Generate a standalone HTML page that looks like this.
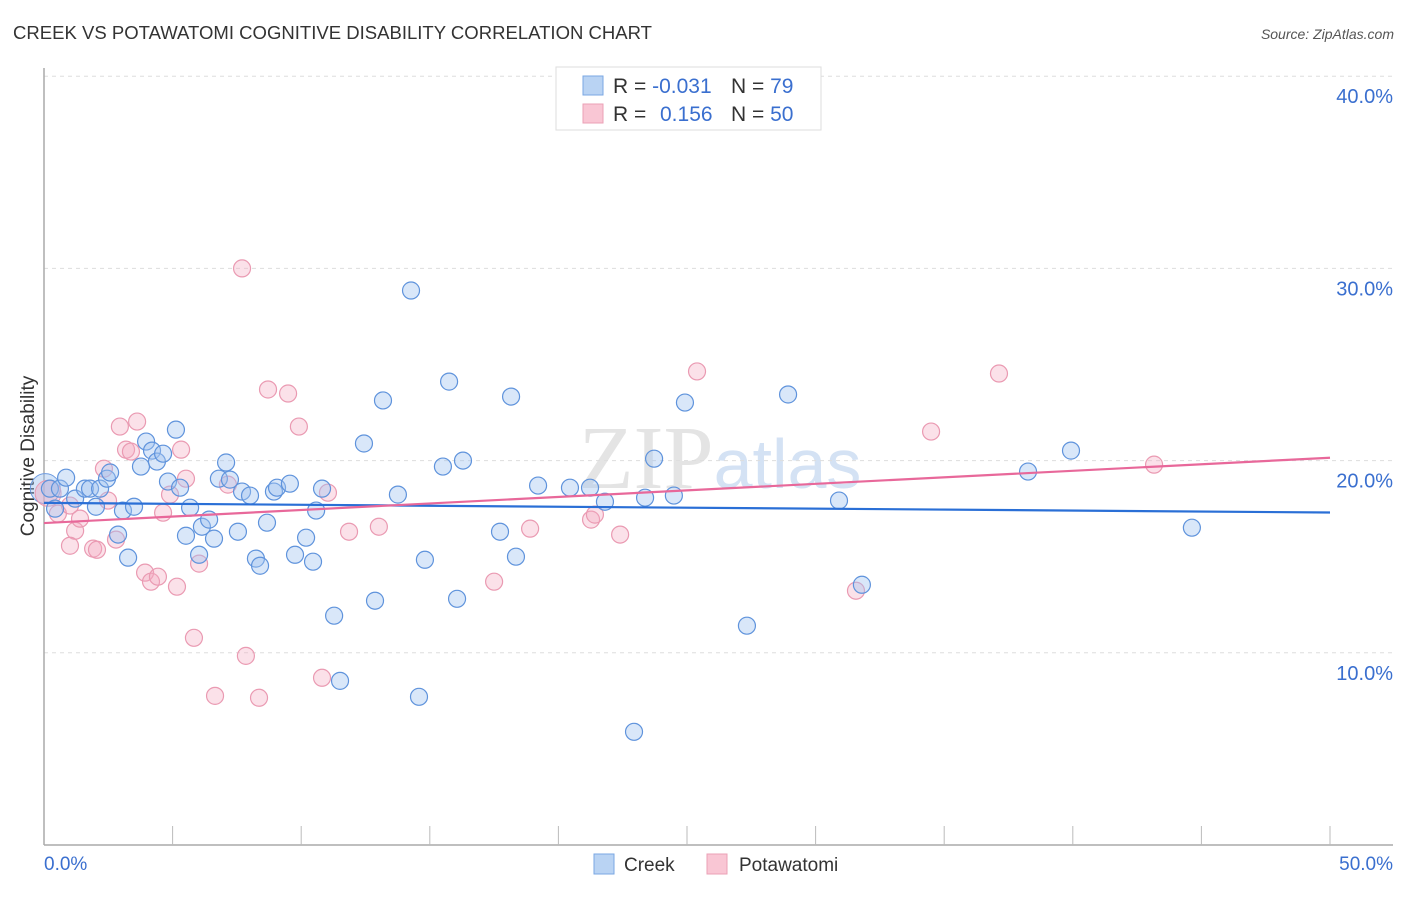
<!DOCTYPE html>
<html><head><meta charset="utf-8"><style>
body{margin:0;background:#fff;width:1406px;height:892px;overflow:hidden;font-family:"Liberation Sans",sans-serif}
</style></head><body>
<svg id="chart" width="1406" height="892" xmlns="http://www.w3.org/2000/svg" font-family="Liberation Sans, sans-serif">
<text x="13" y="39" font-size="18" fill="#333" textLength="639" lengthAdjust="spacingAndGlyphs">CREEK VS POTAWATOMI COGNITIVE DISABILITY CORRELATION CHART</text>
<text x="1394" y="39" font-size="14" fill="#555" text-anchor="end" font-style="italic">Source: ZipAtlas.com</text>
<text x="720" y="488" font-size="90" fill="#e4e4e4" text-anchor="middle" font-family="Liberation Serif, serif">ZIP<tspan fill="#d4e2f4" font-family="Liberation Sans, sans-serif" font-size="70">atlas</tspan></text>
<g id="grid"></g>
<g id="axes"></g>
<text transform="translate(34,456) rotate(-90)" font-size="19" fill="#333" text-anchor="middle">Cognitive Disability</text>
<g id="marks"></g>
<g>
<rect x="556" y="67" width="265" height="63" fill="#fff" stroke="#ddd"/>
<rect x="583" y="76" width="20" height="19" fill="#b9d3f3" stroke="#7aa7e3"/>
<rect x="583" y="104" width="20" height="19" fill="#f9c6d4" stroke="#eba0b6"/>
<text x="613" y="93" font-size="21" fill="#333">R = <tspan fill="#3a6fcf">-0.031</tspan><tspan x="731">N = </tspan><tspan fill="#3a6fcf">79</tspan></text>
<text x="613" y="121" font-size="21" fill="#333">R = <tspan x="660" fill="#3a6fcf">0.156</tspan><tspan x="731">N = </tspan><tspan fill="#3a6fcf">50</tspan></text>
</g>
<g>
<rect x="594" y="854" width="20" height="20" fill="#b9d3f3" stroke="#7aa7e3"/>
<text x="624" y="871" font-size="19" fill="#333">Creek</text>
<rect x="707" y="854" width="20" height="20" fill="#f9c6d4" stroke="#eba0b6"/>
<text x="739" y="871" font-size="19" fill="#333">Potawatomi</text>
</g>
</svg>
<script>
const yTicks=[10,20,30,40];
const yTickLabels=["10.0%","20.0%","30.0%","40.0%"];
const xTickCount=10;
const creekX=[0.23,0.62,0.86,0.43,1.21,1.59,1.79,2.18,2.02,2.45,2.57,3.07,3.5,2.88,3.27,3.77,3.97,4.2,4.39,4.63,5.13,4.82,5.29,5.68,5.52,6.03,6.14,6.42,6.61,6.8,7.08,7.23,7.54,7.7,8.01,8.24,8.4,8.67,8.94,9.06,9.56,9.76,10.19,10.46,10.58,10.81,11.28,11.51,12.44,12.87,13.18,13.76,14.27,14.58,14.81,15.51,15.75,16.06,16.29,17.73,18.16,18.35,19.21,20.45,21.23,21.81,22.94,23.37,23.72,24.49,24.92,27.33,28.93,30.91,31.8,38.26,39.93,44.63];
const creekY=[18.54,18.54,19.11,17.5,18.02,18.54,18.54,18.54,17.6,19.06,19.38,17.4,17.6,16.15,14.95,19.69,20.99,20.52,19.95,20.36,21.61,18.91,18.59,17.55,16.09,15.1,16.56,16.93,15.94,19.06,19.9,19.01,16.3,18.39,18.18,14.9,14.53,16.77,18.39,18.59,18.8,15.1,15.99,14.74,17.4,18.54,11.93,8.54,20.89,12.71,23.13,18.23,28.85,7.71,14.84,19.69,24.11,12.81,20.0,16.3,23.33,15.0,18.7,18.59,18.59,17.86,5.89,18.07,20.1,18.18,23.02,11.41,23.44,17.92,13.54,19.43,20.52,16.51];
const potX=[0.54,1.01,1.21,1.01,1.4,1.91,2.06,2.33,2.49,2.8,2.95,3.19,3.38,3.62,3.93,4.16,4.43,4.63,4.9,5.17,5.33,5.52,5.83,6.03,6.65,7.15,7.7,7.85,8.36,8.71,9.49,9.91,10.81,11.04,11.86,13.02,17.5,18.9,21.27,21.42,22.4,25.39,31.57,34.49,37.13,43.16];
const potY=[17.24,17.66,16.35,15.57,16.98,15.42,15.36,19.58,17.92,15.89,21.77,20.57,20.47,22.03,14.17,13.7,13.96,17.29,18.23,13.44,20.57,19.06,10.78,14.64,7.76,18.75,30.0,9.84,7.66,23.7,23.49,21.77,8.7,18.33,16.3,16.56,13.7,16.46,16.93,17.19,16.15,24.64,13.23,21.51,24.53,19.79];
const creekTrend=[17.8,17.3];
const potTrend=[16.75,20.15];
const NS="http://www.w3.org/2000/svg";
const X=v=>44+v/50*1286;
const Y=v=>845-v*19.22;
function mk(t,a,p){const e=document.createElementNS(NS,t);for(const k in a)e.setAttribute(k,a[k]);p.appendChild(e);return e;}
const grid=document.getElementById('grid'),axes=document.getElementById('axes'),marks=document.getElementById('marks');
yTicks.forEach((v,i)=>{
 const l=mk('line',{x1:44,x2:1393,y1:Y(v),y2:Y(v),stroke:'#ddd','stroke-dasharray':'4,4'},grid);
 
 
 const t=mk('text',{x:1393,y:Y(v)+27,'font-size':20,fill:'#3a6fcf','text-anchor':'end'},grid);
 t.textContent=yTickLabels[i];
 
 
});
const ya=mk('line',{x1:44,x2:44,y1:68,y2:845,stroke:'#aaa','stroke-width':1.5},axes);


const xa=mk('line',{x1:44,x2:1393,y1:845,y2:845,stroke:'#aaa','stroke-width':1.5},axes);


for(let i=1;i<=xTickCount;i++){const tk=mk('line',{x1:X(i*5),x2:X(i*5),y1:826,y2:845,stroke:'#bbb'},axes);
 
 }
const x0=mk('text',{x:44,y:870,'font-size':19,fill:'#3a6fcf'},axes);x0.textContent='0.0%';


const x1=mk('text',{x:1393,y:870,'font-size':19,fill:'#3a6fcf','text-anchor':'end'},axes);x1.textContent='50.0%';


const bb=mk('circle',{cx:X(0.05),cy:Y(18.54),r:15,fill:'rgba(160,196,240,0.45)',stroke:'#6d9be0'},marks);


const bp=mk('circle',{cx:X(0.16),cy:Y(18.3),r:13,fill:'rgba(244,170,192,0.45)',stroke:'#ea9ab2'},marks);


potX.forEach((v,i)=>{const c=mk('circle',{cx:X(v),cy:Y(potY[i]),r:8.5,fill:'rgba(244,170,192,0.35)',stroke:'#ea9ab2','stroke-width':1.2},marks);
 
 });
creekX.forEach((v,i)=>{const c=mk('circle',{cx:X(v),cy:Y(creekY[i]),r:8.5,fill:'rgba(160,196,240,0.4)',stroke:'#5f93dc','stroke-width':1.2},marks);
 
 });
const tl1=mk('line',{x1:X(0),x2:X(50),y1:Y(creekTrend[0]),y2:Y(creekTrend[1]),stroke:'#2a6fd6','stroke-width':2.2},marks);


const tl2=mk('line',{x1:X(0),x2:X(50),y1:Y(potTrend[0]),y2:Y(potTrend[1]),stroke:'#e8689a','stroke-width':2.2},marks);


</script>
</body></html>
